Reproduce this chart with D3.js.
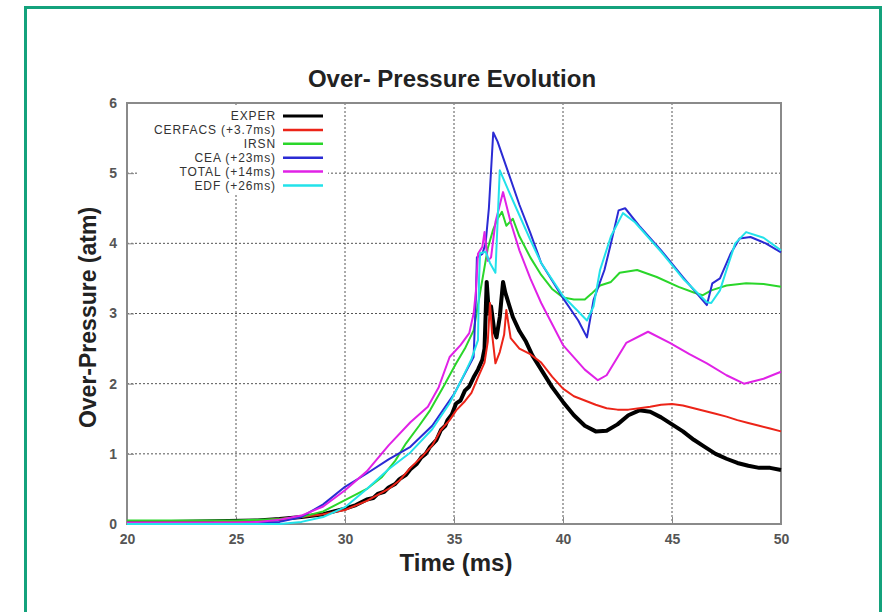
<!DOCTYPE html>
<html>
<head>
<meta charset="utf-8">
<script src="https://cdn.jsdelivr.net/npm/d3@7"></script>
<style>
  body { margin: 0; background: #fff; }
  text { font-family: "Liberation Sans", Arial, sans-serif; }
</style>
</head>
<body>
<div id="container"></div>
<script>
// chart size
const width = 887;
const height = 612;
const plot = {left: 127, right: 781, top: 103, bottom: 524};

// series names and colours (legend order)
const seriesNames = ["EXPER", "CERFACS (+3.7ms)", "IRSN", "CEA (+23ms)", "TOTAL (+14ms)", "EDF (+26ms)"];
const seriesColors = ["#000000", "#ec2418", "#2ad62a", "#2b2bd4", "#e022e6", "#22e2ea"];

// tick values
const xTicks = [20, 25, 30, 35, 40, 45, 50];
const yTicks = [0, 1, 2, 3, 4, 5, 6];

// [time ms, over-pressure atm]
const exper = [[20,0.03],[22,0.03],[24,0.04],[26,0.05],[27,0.07],[28,0.1],[29,0.14],[30,0.22],[30.5,0.27],[31,0.35],[31.3,0.37],[31.5,0.43],[31.8,0.46],[32,0.52],[32.3,0.57],[32.5,0.64],[32.8,0.7],[33,0.78],[33.3,0.86],[33.5,0.95],[33.7,1.0],[33.9,1.1],[34.2,1.2],[34.4,1.34],[34.6,1.4],[34.7,1.48],[34.9,1.56],[35.1,1.72],[35.3,1.76],[35.5,1.9],[35.7,1.96],[35.9,2.09],[36.1,2.2],[36.3,2.34],[36.4,2.5],[36.5,3.45],[36.6,3.0],[36.7,3.1],[36.85,2.75],[36.95,2.66],[37.1,2.95],[37.25,3.45],[37.35,3.3],[37.5,3.15],[37.7,2.95],[38.0,2.75],[38.3,2.6],[38.6,2.4],[39,2.2],[39.5,1.95],[40,1.74],[40.5,1.55],[41,1.4],[41.5,1.32],[42,1.33],[42.5,1.42],[43,1.55],[43.5,1.62],[44,1.6],[44.5,1.52],[45,1.42],[45.5,1.32],[46,1.2],[46.5,1.1],[47,1.0],[47.5,0.93],[48,0.87],[48.5,0.83],[49,0.8],[49.5,0.8],[50,0.77]];
const cerfacs = [[20,0.02],[24,0.03],[26,0.05],[27,0.07],[28,0.1],[29,0.14],[30,0.2],[31,0.33],[32,0.5],[32.5,0.62],[33,0.8],[33.5,0.95],[34,1.12],[34.4,1.34],[34.8,1.48],[35.1,1.62],[35.5,1.75],[35.8,1.87],[36.1,2.09],[36.4,2.3],[36.55,2.6],[36.65,3.15],[36.75,2.7],[36.9,2.29],[37.1,2.45],[37.3,2.7],[37.4,3.05],[37.6,2.65],[38,2.5],[38.5,2.42],[39,2.3],[39.5,2.1],[40,1.93],[40.5,1.82],[41,1.76],[41.5,1.7],[42,1.65],[42.5,1.63],[43,1.63],[43.5,1.65],[44,1.67],[44.5,1.7],[45,1.71],[45.5,1.69],[46,1.65],[46.5,1.61],[47,1.57],[47.5,1.53],[48,1.48],[48.5,1.44],[49,1.4],[49.5,1.36],[50,1.32]];
const irsn = [[20,0.05],[25,0.05],[27,0.07],[28,0.1],[29,0.18],[30,0.34],[31,0.5],[31.7,0.67],[32.3,0.9],[32.8,1.15],[33.4,1.4],[33.9,1.62],[34.5,1.95],[35.1,2.29],[35.5,2.5],[35.9,2.76],[36.2,3.3],[36.55,3.93],[36.8,4.2],[37.0,4.35],[37.2,4.45],[37.4,4.25],[37.7,4.35],[38,4.1],[38.5,3.8],[39,3.55],[39.5,3.35],[40,3.23],[40.5,3.2],[41,3.2],[41.3,3.28],[41.7,3.4],[42.2,3.45],[42.6,3.58],[43.4,3.62],[44.3,3.52],[45.3,3.38],[46.0,3.3],[46.4,3.26],[46.8,3.33],[47.5,3.4],[48.4,3.43],[49.2,3.42],[50,3.38]];
const cea = [[20,0.01],[26,0.01],[27,0.03],[28,0.1],[29,0.28],[30,0.53],[31,0.72],[32,0.92],[33,1.1],[34,1.4],[35,1.85],[35.9,2.38],[36.0,3.2],[36.05,3.8],[36.3,3.85],[36.45,4.0],[36.6,4.5],[36.8,5.58],[37.0,5.45],[37.5,5.0],[38,4.55],[38.5,4.15],[39,3.72],[40,3.22],[40.7,2.9],[41.1,2.66],[41.4,3.19],[41.9,3.62],[42.2,4.0],[42.55,4.47],[42.85,4.5],[43.5,4.25],[44.5,3.9],[45.5,3.52],[46.6,3.12],[46.85,3.43],[47.2,3.5],[47.7,3.86],[48.1,4.07],[48.6,4.09],[49.3,4.0],[50,3.87]];
const total = [[20,0.02],[25,0.02],[26,0.03],[27,0.06],[28,0.12],[29,0.25],[30,0.48],[31,0.75],[32,1.12],[33,1.45],[33.8,1.67],[34.3,1.95],[34.8,2.38],[35.3,2.55],[35.7,2.72],[35.9,3.0],[36.0,3.3],[36.1,3.85],[36.3,3.95],[36.4,4.16],[36.55,3.75],[36.7,3.8],[36.9,4.3],[37.25,4.73],[37.6,4.3],[38,3.9],[38.5,3.5],[39,3.15],[40,2.55],[41,2.2],[41.6,2.05],[42,2.12],[42.9,2.58],[43.9,2.74],[44.9,2.58],[45.8,2.42],[46.6,2.29],[47.5,2.12],[48.3,2.0],[49.2,2.07],[50,2.17]];
const edf = [[20,0.0],[27,0.0],[28,0.03],[29,0.1],[30,0.24],[31,0.5],[32,0.78],[33,1.02],[34,1.35],[34.8,1.72],[35.4,2.09],[35.8,2.35],[36.1,2.62],[36.15,3.5],[36.2,3.86],[36.45,3.88],[36.65,3.72],[36.9,3.58],[37.1,5.04],[37.5,4.75],[38,4.4],[38.5,4.05],[39,3.72],[40,3.25],[41.1,2.9],[41.4,3.1],[41.7,3.62],[42.2,4.1],[42.75,4.43],[43.3,4.3],[44.5,3.88],[45.5,3.5],[46.6,3.16],[46.8,3.15],[47.2,3.33],[47.5,3.62],[47.9,4.0],[48.4,4.16],[49.2,4.08],[50,3.9]];

const seriesData = [exper, cerfacs, irsn, cea, total, edf];

// scales
const xScale = d3.scaleLinear().domain([20, 50]).range([plot.left, plot.right]);
const yScale = d3.scaleLinear().domain([0, 6]).range([plot.bottom, plot.top]);

const svg = d3.select("#container")
  .append("svg")
  .attr("width", width)
  .attr("height", height);

// green frame around the figure
svg.append("rect")
  .attr("x", 25.5).attr("y", 7.5)
  .attr("width", 855).attr("height", 640)
  .attr("fill", "none")
  .attr("stroke", "#14a27c")
  .attr("stroke-width", 3);

// grid (dotted)
const grid = svg.append("g").attr("stroke", "#555").attr("stroke-width", 1).attr("stroke-dasharray", "2,2");
grid.selectAll(".gx").data(xTicks.slice(1, -1)).join("line")
  .attr("x1", d => xScale(d)).attr("x2", d => xScale(d))
  .attr("y1", plot.top).attr("y2", plot.bottom);
grid.selectAll(".gy").data(yTicks.slice(1, -1)).join("line")
  .attr("y1", d => yScale(d)).attr("y2", d => yScale(d))
  .attr("x1", plot.left).attr("x2", plot.right);

// legend box hides the grid behind it
svg.append("rect")
  .attr("x", 137).attr("y", 106)
  .attr("width", 191).attr("height", 88)
  .attr("fill", "#fff");

// axes with inward ticks
const xAxis = g => g.call(d3.axisBottom(xScale).tickValues(xTicks).tickFormat(d3.format("d")).tickSize(-7).tickPadding(10))
  .call(g => g.select(".domain").remove());
const yAxis = g => g.call(d3.axisLeft(yScale).tickValues(yTicks).tickFormat(d3.format("d")).tickSize(-7).tickPadding(10))
  .call(g => g.select(".domain").remove());

svg.append("g")
  .attr("transform", `translate(0,${plot.bottom})`)
  .call(xAxis)
  .call(g => g.selectAll("line").attr("stroke", "#888"))
  .call(g => g.selectAll("text").attr("fill", "#555").attr("font-size", 14).attr("font-weight", "bold"));
svg.append("g")
  .attr("transform", `translate(${plot.left},0)`)
  .call(yAxis)
  .call(g => g.selectAll("line").attr("stroke", "#888"))
  .call(g => g.selectAll("text").attr("fill", "#555").attr("font-size", 14).attr("font-weight", "bold"));

// plot border
svg.append("rect")
  .attr("x", plot.left).attr("y", plot.top)
  .attr("width", plot.right - plot.left).attr("height", plot.bottom - plot.top)
  .attr("fill", "none").attr("stroke", "#8a8a8a").attr("stroke-width", 2);

// curves
const line = d3.line().x(d => xScale(d[0])).y(d => yScale(d[1]));
svg.append("g").selectAll("path")
  .data(seriesData)
  .join("path")
  .attr("d", line)
  .attr("fill", "none")
  .attr("stroke", (d, i) => seriesColors[i])
  .attr("stroke-width", (d, i) => i === 0 ? 4 : 2)
  .attr("stroke-linejoin", "round");

// legend
const legend = svg.append("g");
seriesNames.forEach((name, i) => {
  const y = 116 + i * 13.9;
  legend.append("text")
    .attr("x", 276).attr("y", y).attr("dy", "0.35em")
    .attr("text-anchor", "end")
    .attr("font-size", 12).attr("letter-spacing", 0.9).attr("fill", "#333")
    .text(name);
  legend.append("line")
    .attr("x1", 283).attr("x2", 323)
    .attr("y1", y).attr("y2", y)
    .attr("stroke", seriesColors[i]).attr("stroke-width", i === 0 ? 3 : 2.5);
});

// titles
svg.append("text")
  .attr("x", 452).attr("y", 87)
  .attr("text-anchor", "middle")
  .attr("font-size", 24).attr("font-weight", "bold").attr("fill", "#222")
  .text("Over- Pressure Evolution");

svg.append("text")
  .attr("x", 456).attr("y", 571)
  .attr("text-anchor", "middle")
  .attr("font-size", 24).attr("font-weight", "bold").attr("fill", "#222")
  .text("Time (ms)");

svg.append("text")
  .attr("transform", `translate(96,${(plot.top + plot.bottom) / 2 + 4}) rotate(-90)`)
  .attr("text-anchor", "middle")
  .attr("font-size", 23).attr("font-weight", "bold").attr("fill", "#222")
  .text("Over-Pressure (atm)");
</script>
</body>
</html>
